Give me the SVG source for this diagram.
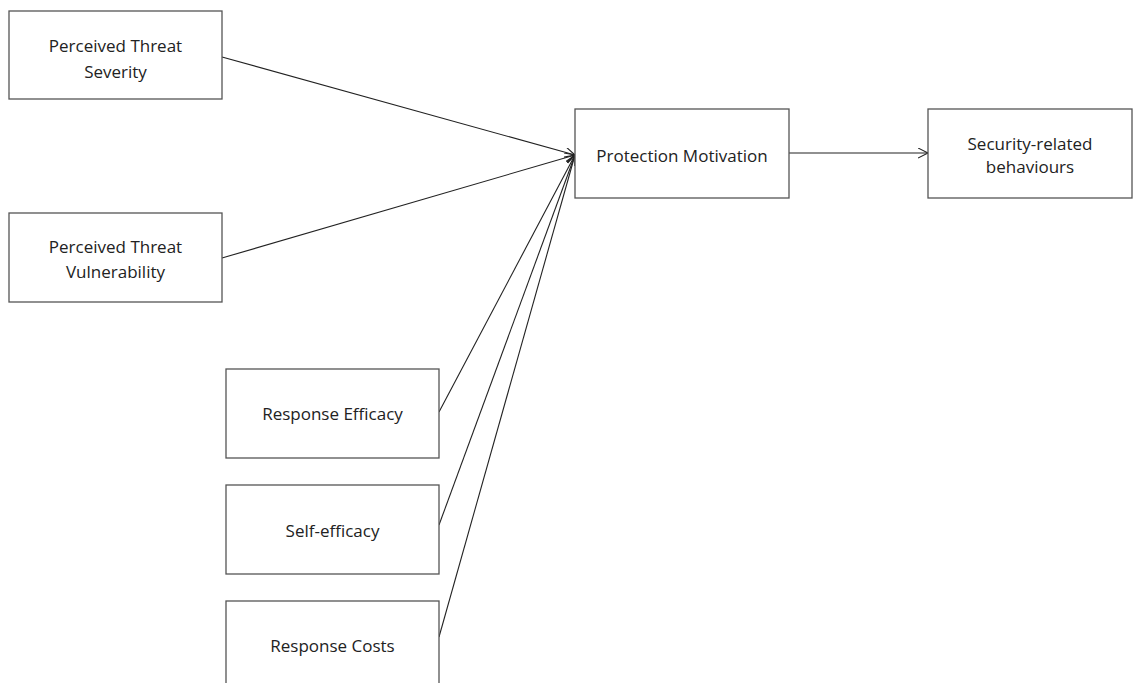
<svg xmlns="http://www.w3.org/2000/svg" width="1134" height="683" viewBox="0 0 1134 683">
<style>
.box{fill:#fff;stroke:#555;stroke-width:1.3}
.t{font-family:"Open Sans","Liberation Sans",sans-serif;font-size:17px;fill:#222;text-anchor:middle;dominant-baseline:central}
.c{stroke:#222;stroke-width:1.1;fill:none}
</style>
<defs>
<marker id="ah" markerWidth="12" markerHeight="12" refX="10" refY="5" orient="auto" markerUnits="userSpaceOnUse">
<path d="M0,0 L10,5 L0,10" fill="none" stroke="#222" stroke-width="1.1"/>
</marker>
</defs>
<rect width="1134" height="683" fill="#fff"/>
<g id="connectors">
<line class="c" x1="222" y1="57" x2="575" y2="155" marker-end="url(#ah)"/>
<line class="c" x1="222" y1="258" x2="575" y2="155" marker-end="url(#ah)"/>
<line class="c" x1="439" y1="412" x2="575" y2="155" marker-end="url(#ah)"/>
<line class="c" x1="439" y1="525" x2="575" y2="155" marker-end="url(#ah)"/>
<line class="c" x1="439" y1="637" x2="575" y2="155" marker-end="url(#ah)"/>
<line class="c" x1="789" y1="153" x2="928" y2="153" marker-end="url(#ah)"/>
</g>
<g id="n1"><rect class="box" x="9" y="11" width="213" height="88"/><text class="t" x="115.5" y="45">Perceived Threat</text><text class="t" x="115.5" y="71">Severity</text></g>
<g id="n2"><rect class="box" x="9" y="213" width="213" height="89"/><text class="t" x="115.5" y="246">Perceived Threat</text><text class="t" x="115.5" y="271">Vulnerability</text></g>
<g id="n3"><rect class="box" x="226" y="369" width="213" height="89"/><text class="t" x="332.5" y="413">Response Efficacy</text></g>
<g id="n4"><rect class="box" x="226" y="485" width="213" height="89"/><text class="t" x="332.5" y="530">Self-efficacy</text></g>
<g id="n5"><rect class="box" x="226" y="601" width="213" height="89"/><text class="t" x="332.5" y="645">Response Costs</text></g>
<g id="n6"><rect class="box" x="575" y="109" width="214" height="89"/><text class="t" x="682" y="155">Protection Motivation</text></g>
<g id="n7"><rect class="box" x="928" y="109" width="204" height="89"/><text class="t" x="1030" y="143">Security-related</text><text class="t" x="1030" y="166">behaviours</text></g>
</svg>
